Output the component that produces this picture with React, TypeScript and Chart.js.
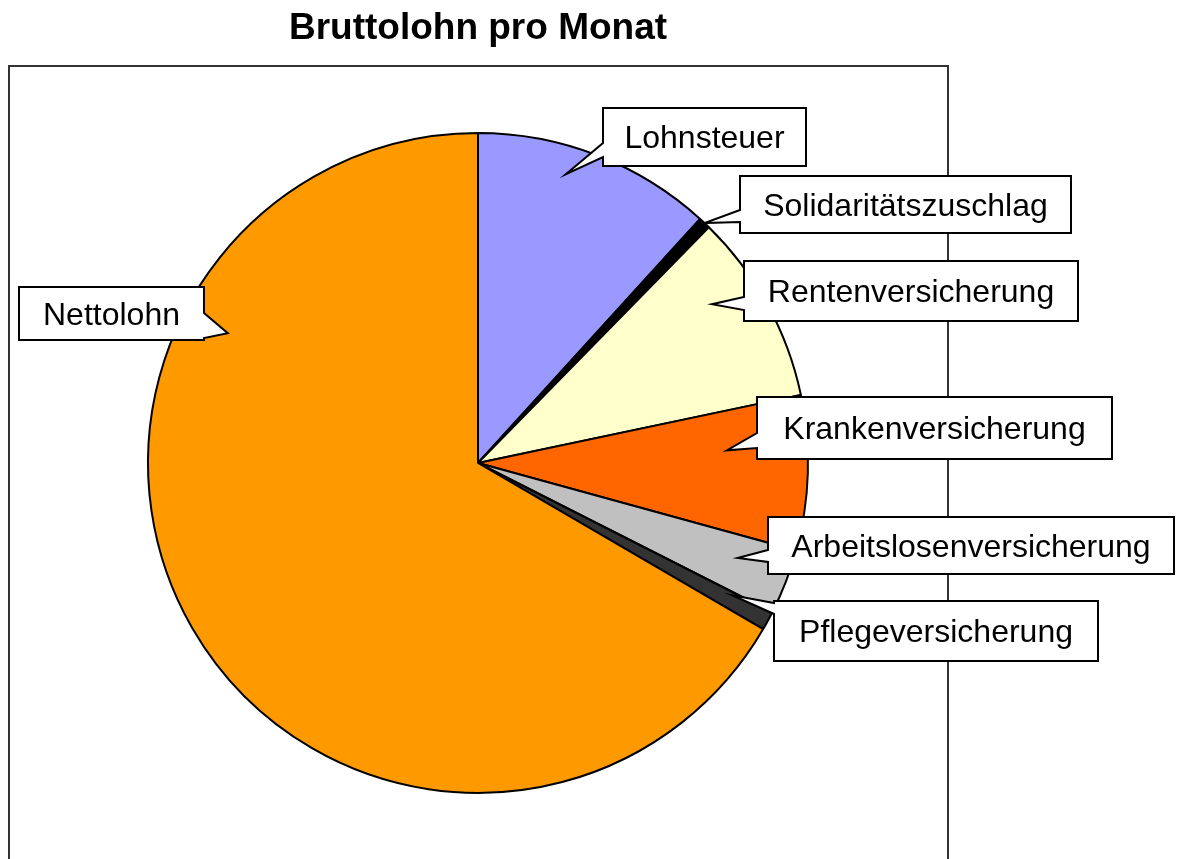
import React, { useEffect, useRef } from "react";
import { Chart, registerables } from "chart.js";

Chart.register(...registerables);

// ---------- data ----------
const TITLE = "Bruttolohn pro Monat";
const CATEGORIES = [
  "Lohnsteuer",
  "Solidaritätszuschlag",
  "Rentenversicherung",
  "Krankenversicherung",
  "Arbeitslosenversicherung",
  "Pflegeversicherung",
  "Nettolohn",
];
const SHARES = [11.75, 0.58, 9.36, 7.58, 3.2, 0.92, 66.61];
const COLORS = ["#9999FF", "#000000", "#FFFFCC", "#FF6600", "#C0C0C0", "#333333", "#FF9900"];

// ---------- callout layout (label boxes; tip derived from each arc) ----------
type Callout = { box: [number, number, number, number]; side: "left" | "right"; base: [number, number]; t: number; rf: number };
const CALLOUTS: Callout[] = [
  { box: [603, 108, 203, 58], side: "left", base: [143, 157], t: 0.4, rf: 0.915 },
  { box: [740, 176, 331, 57], side: "left", base: [210, 222], t: 0.5, rf: 1.0 },
  { box: [744, 261, 334, 60], side: "left", base: [297, 310], t: 0.34, rf: 0.857 },
  { box: [757, 397, 355, 62], side: "left", base: [433, 448], t: 0.33, rf: 0.755 },
  { box: [768, 517, 406, 57], side: "left", base: [550, 562], t: 0.41, rf: 0.838 },
  { box: [774, 601, 324, 60], side: "left", base: [603, 614], t: 0.18, rf: 0.868 },
  { box: [19, 287, 185, 53], side: "right", base: [313, 338], t: 0.739, rf: 0.854 },
];

const FONT = '"Liberation Sans", Arial, Helvetica, sans-serif';
const LABEL_SIZE = 32;

const framePlugin = {
  id: "frame",
  beforeDraw(chart: any) {
    const ctx = chart.ctx;
    ctx.save();
    ctx.fillStyle = "#ffffff";
    ctx.fillRect(0, 0, chart.width, chart.height);
    ctx.strokeStyle = "#333333";
    ctx.lineWidth = 2;
    ctx.strokeRect(9, 66, 939, 900);
    ctx.restore();
  },
};

const calloutPlugin = {
  id: "callouts",
  afterDatasetsDraw(chart: any) {
    const ctx = chart.ctx;
    const meta = chart.getDatasetMeta(0);
    ctx.save();
    CALLOUTS.forEach((c, i) => {
      const arc = meta.data[i];
      if (!arc) return;
      const p = arc.getProps(["x", "y", "startAngle", "endAngle", "outerRadius"], true);
      const a = p.startAngle + c.t * (p.endAngle - p.startAngle);
      const r = c.rf * p.outerRadius;
      const tx = p.x + r * Math.cos(a);
      const ty = p.y + r * Math.sin(a);
      const [x, y, w, h] = c.box;
      ctx.beginPath();
      if (c.side === "left") {
        ctx.moveTo(x, y);
        ctx.lineTo(x + w, y);
        ctx.lineTo(x + w, y + h);
        ctx.lineTo(x, y + h);
        ctx.lineTo(x, c.base[1]);
        ctx.lineTo(tx, ty);
        ctx.lineTo(x, c.base[0]);
      } else {
        ctx.moveTo(x, y);
        ctx.lineTo(x + w, y);
        ctx.lineTo(x + w, c.base[0]);
        ctx.lineTo(tx, ty);
        ctx.lineTo(x + w, c.base[1]);
        ctx.lineTo(x + w, y + h);
        ctx.lineTo(x, y + h);
      }
      ctx.closePath();
      ctx.fillStyle = "#ffffff";
      ctx.fill();
      ctx.lineWidth = 2;
      ctx.lineJoin = "miter";
      ctx.strokeStyle = "#000000";
      ctx.stroke();

      ctx.fillStyle = "#000000";
      ctx.font = `${LABEL_SIZE}px ${FONT}`;
      ctx.textAlign = "center";
      ctx.textBaseline = "alphabetic";
      ctx.fillText(CATEGORIES[i], x + w / 2, y + h / 2 + LABEL_SIZE * 0.358);
    });
    ctx.restore();
  },
};

export default function App() {
  const ref = useRef<HTMLCanvasElement | null>(null);
  useEffect(() => {
    if (!ref.current) return;
    const chart = new Chart(ref.current, {
      type: "pie",
      data: {
        labels: CATEGORIES,
        datasets: [
          {
            data: SHARES,
            backgroundColor: COLORS,
            borderColor: "#000000",
            borderWidth: 2,
          },
        ],
      },
      options: {
        responsive: false,
        animation: false,
        radius: 330,
        layout: { padding: { left: 100, right: 324, top: 4, bottom: 33 } },
        plugins: {
          legend: { display: false },
          tooltip: { enabled: false },
          title: {
            display: true,
            text: TITLE,
            color: "#000000",
            font: { family: FONT, size: 37, weight: "bold", lineHeight: 1.2 },
            padding: { top: 3, bottom: 48.6 },
          },
        },
      } as any,
      plugins: [framePlugin, calloutPlugin],
    });
    return () => chart.destroy();
  }, []);
  return (
    <div style={{ position: "absolute", left: 0, top: 0, width: 1180, height: 859 }}>
      <canvas ref={ref} width={1180} height={859} style={{ display: "block" }} />
    </div>
  );
}
